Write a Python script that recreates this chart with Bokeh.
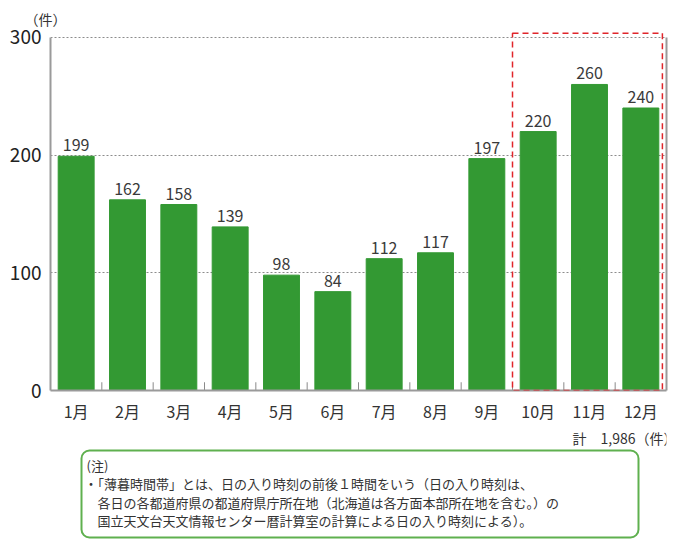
from bokeh.plotting import figure
from bokeh.models import (Range1d, FixedTicker, LinearAxis, LabelSet, ColumnDataSource,
                          BoxAnnotation)
from bokeh.core.properties import value
from bokeh.layouts import column
from bokeh.embed import file_html
from bokeh.resources import INLINE

months = ["1月", "2月", "3月", "4月", "5月", "6月", "7月", "8月", "9月", "10月", "11月", "12月"]
counts = [199, 162, 158, 139, 98, 84, 112, 117, 197, 220, 260, 240]
highlight = ["10月", "11月", "12月"]
y_ticks = [0, 100, 200, 300]
total_text = "計　1,986（件）"
unit_text = "（件）"
note_lines = [
    "(注)",
    "・「薄暮時間帯」とは、日の入り時刻の前後１時間をいう（日の入り時刻は、",
    "各日の各都道府県の都道府県庁所在地（北海道は各方面本部所在地を含む。）の",
    "国立天文台天文情報センター暦計算室の計算による日の入り時刻による）。",
]

FONT = "Noto Sans CJK JP"
GREEN = "#339933"
AXIS = "#9a9a9a"

n = len(months)
xs = [i + 0.5 for i in range(n)]
src = ColumnDataSource(dict(x=xs, top=counts, lab=[str(c) for c in counts]))

p = figure(width=680, height=425, output_backend="svg", toolbar_location=None,
           x_range=Range1d(0, n), y_range=Range1d(0, 305),
           min_border_left=50, min_border_right=14, min_border_top=31, min_border_bottom=33,
           x_axis_location=None, y_axis_location=None)
p.outline_line_color = None
p.background_fill_color = "white"
p.border_fill_color = "white"

p.title.text = unit_text
p.title.align = "left"
p.title.offset = -26
p.title.text_font = FONT
p.title.text_font_size = "14px"
p.title.text_font_style = "normal"
p.title.text_color = "#333333"
p.title.standoff = 6

# grid
p.xgrid.visible = False
p.ygrid.ticker = FixedTicker(ticks=y_ticks)
p.ygrid.grid_line_color = "#8c8c8c"
p.ygrid.grid_line_dash = "2 2"
p.ygrid.grid_line_width = 1

p.vbar(x="x", top="top", width=0.7, source=src, fill_color=GREEN, line_color=GREEN)

# small separators between categories (inner ticks)
bounds_x = list(range(1, n))
p.segment(x0=bounds_x, x1=bounds_x, y0=[0] * len(bounds_x), y1=[7] * len(bounds_x),
          line_color="#8a8a8a", line_width=1)

p.add_layout(LabelSet(x="x", y="top", text="lab", source=src, text_align="center",
                      text_baseline="bottom", y_offset=5, text_font=value(FONT),
                      text_font_size="16px", text_color="#3a3a3a"))

# highlight box
i0 = months.index(highlight[0])
i1 = months.index(highlight[-1])
hb = BoxAnnotation(left=i0, right=i1 + 1 - 0.08, bottom=0, top=y_ticks[-1] + 3.5,
                   fill_alpha=0, line_color="#e0252b", line_alpha=1.0, line_width=1.5,
                   line_dash="6 4")
p.add_layout(hb)

# axes
xaxis = LinearAxis(ticker=FixedTicker(ticks=xs))
xaxis.major_label_overrides = {x: m for x, m in zip(xs, months)}
xaxis.major_tick_in = 0
xaxis.major_tick_out = 0
xaxis.minor_tick_line_color = None
xaxis.axis_line_color = AXIS
xaxis.axis_line_width = 2
xaxis.major_label_text_font = FONT
xaxis.major_label_text_font_size = "16px"
xaxis.major_label_text_color = "#333333"
xaxis.major_label_standoff = 8
p.add_layout(xaxis, "below")

yaxis = LinearAxis(ticker=FixedTicker(ticks=y_ticks), bounds=(0, y_ticks[-1]))
yaxis.major_tick_in = 0
yaxis.major_tick_out = 0
yaxis.minor_tick_line_color = None
yaxis.axis_line_color = AXIS
yaxis.axis_line_width = 2
yaxis.major_label_text_font = FONT
yaxis.major_label_text_font_size = "19px"
yaxis.major_label_text_color = "#222222"
yaxis.major_label_standoff = 9
p.add_layout(yaxis, "left")

raxis = LinearAxis(ticker=FixedTicker(ticks=[]), bounds=(0, y_ticks[-1]))
raxis.major_tick_in = 0
raxis.major_tick_out = 0
raxis.minor_tick_line_color = None
raxis.major_label_text_font_size = "0px"
raxis.axis_line_color = AXIS
raxis.axis_line_width = 2
p.add_layout(raxis, "right")

# note figure (frame aligned with chart frame: x in page pixels 50..666)
q = figure(width=680, height=120, output_backend="svg", toolbar_location=None,
           x_range=Range1d(50, 666), y_range=Range1d(120, 0), min_border=0,
           min_border_left=50, min_border_right=14,
           x_axis_location=None, y_axis_location=None)
q.outline_line_color = None
q.grid.visible = False
q.add_layout(BoxAnnotation(left=81, right=638, top=25, bottom=112, fill_alpha=0,
                           line_color="#5fb04f", line_alpha=1.0, line_width=2,
                           border_radius=8))
q.text(x=[677], y=[12], text=[total_text], text_align="right", text_baseline="middle",
       text_font=value(FONT), text_font_size="14px", text_color="#333333")
q.text(x=[86, 84, 97, 97], y=[40, 58, 77, 95], text=note_lines, text_align="left",
       text_baseline="middle", text_font=value(FONT), text_font_size="13px",
       text_color="#333333")

layout = column(p, q, spacing=0)
open("out.html", "w").write(file_html(layout, INLINE))
